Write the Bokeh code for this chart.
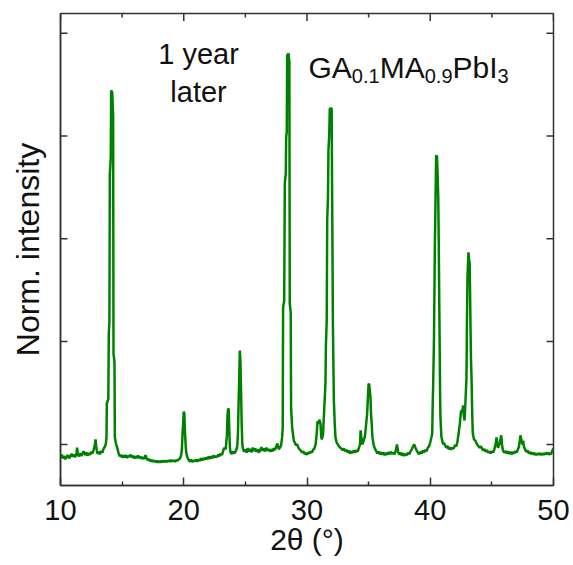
from math import pi

from bokeh.embed import file_html
from bokeh.models import FixedTicker, Label, Range1d
from bokeh.plotting import figure
from bokeh.resources import INLINE

# XRD pattern, GA0.1MA0.9PbI3 film one year after preparation
two_theta = [
    10.0, 10.1, 10.2, 10.3, 10.4, 10.5, 10.6, 10.7, 10.8, 10.9,
    11.0, 11.1, 11.2, 11.3, 11.35, 11.4, 11.5, 11.6, 11.7, 11.8,
    11.9, 12.0, 12.1, 12.2, 12.3, 12.4, 12.5, 12.6, 12.7, 12.8,
    12.84, 12.9, 12.95, 13.0, 13.1, 13.2, 13.3, 13.4, 13.5, 13.6,
    13.68, 13.73, 13.76, 13.88, 13.92, 13.97, 14.0, 14.08, 14.11, 14.2,
    14.27, 14.3, 14.38, 14.41, 14.5, 14.6, 14.7, 14.8, 14.9, 15.0,
    15.1, 15.2, 15.3, 15.4, 15.5, 15.6, 15.7, 15.8, 15.9, 16.0,
    16.1, 16.2, 16.3, 16.4, 16.5, 16.6, 16.7, 16.8, 16.9, 17.0,
    17.1, 17.2, 17.3, 17.4, 17.5, 17.6, 17.7, 17.8, 17.9, 18.0,
    18.1, 18.2, 18.3, 18.4, 18.5, 18.6, 18.7, 18.8, 18.9, 19.0,
    19.1, 19.2, 19.3, 19.4, 19.5, 19.6, 19.7, 19.8, 19.85, 19.9,
    19.95, 20.0, 20.05, 20.1, 20.15, 20.2, 20.3, 20.4, 20.5, 20.6,
    20.7, 20.8, 20.9, 21.0, 21.1, 21.2, 21.3, 21.4, 21.5, 21.6,
    21.7, 21.8, 21.9, 22.0, 22.1, 22.2, 22.3, 22.4, 22.5, 22.6,
    22.7, 22.8, 22.9, 23.0, 23.1, 23.2, 23.3, 23.4, 23.5, 23.55,
    23.6, 23.65, 23.7, 23.75, 23.8, 23.9, 24.0, 24.1, 24.2, 24.3,
    24.35, 24.4, 24.45, 24.5, 24.55, 24.6, 24.65, 24.7, 24.75, 24.8,
    24.9, 25.0, 25.1, 25.2, 25.3, 25.4, 25.5, 25.6, 25.7, 25.8,
    25.9, 26.0, 26.1, 26.2, 26.3, 26.4, 26.5, 26.6, 26.7, 26.8,
    26.9, 27.0, 27.1, 27.2, 27.3, 27.4, 27.5, 27.6, 27.7, 27.8,
    27.9, 27.98, 28.03, 28.06, 28.15, 28.2, 28.28, 28.31, 28.36, 28.39,
    28.5, 28.57, 28.6, 28.68, 28.71, 28.8, 28.93, 29.0, 29.1, 29.2,
    29.3, 29.4, 29.5, 29.6, 29.7, 29.8, 29.9, 30.0, 30.1, 30.2,
    30.3, 30.4, 30.5, 30.6, 30.7, 30.8, 30.85, 30.95, 31.0, 31.1,
    31.15, 31.2, 31.3, 31.42, 31.5, 31.53, 31.6, 31.64, 31.7, 31.74,
    31.8, 31.85, 32.0, 32.04, 32.07, 32.1, 32.13, 32.18, 32.25, 32.31,
    32.4, 32.5, 32.6, 32.7, 32.8, 32.9, 33.0, 33.1, 33.2, 33.3,
    33.4, 33.5, 33.6, 33.7, 33.8, 33.9, 34.0, 34.1, 34.2, 34.3,
    34.35, 34.4, 34.5, 34.6, 34.7, 34.8, 34.88, 34.95, 35.0, 35.05,
    35.1, 35.15, 35.2, 35.25, 35.3, 35.4, 35.5, 35.6, 35.7, 35.8,
    35.9, 36.0, 36.1, 36.2, 36.3, 36.4, 36.5, 36.6, 36.7, 36.8,
    36.9, 37.0, 37.1, 37.2, 37.3, 37.35, 37.4, 37.5, 37.6, 37.7,
    37.8, 37.9, 38.0, 38.1, 38.2, 38.3, 38.4, 38.5, 38.6, 38.7,
    38.8, 38.9, 39.0, 39.1, 39.2, 39.3, 39.4, 39.5, 39.6, 39.7,
    39.8, 39.9, 40.0, 40.1, 40.16, 40.2, 40.24, 40.3, 40.37, 40.43,
    40.48, 40.55, 40.61, 40.65, 40.69, 40.73, 40.77, 40.8, 40.83, 40.9,
    40.97, 41.05, 41.1, 41.2, 41.3, 41.4, 41.5, 41.6, 41.7, 41.8,
    41.9, 42.0, 42.1, 42.2, 42.3, 42.4, 42.5, 42.6, 42.67, 42.72,
    42.78, 42.85, 42.94, 42.98, 43.02, 43.1, 43.15, 43.2, 43.24, 43.27,
    43.31, 43.35, 43.4, 43.45, 43.55, 43.67, 43.8, 43.9, 44.0, 44.1,
    44.2, 44.3, 44.4, 44.5, 44.6, 44.7, 44.8, 44.9, 45.0, 45.1,
    45.2, 45.3, 45.38, 45.45, 45.5, 45.57, 45.65, 45.76, 45.82, 45.9,
    46.0, 46.1, 46.2, 46.3, 46.4, 46.5, 46.6, 46.7, 46.8, 46.9,
    47.0, 47.1, 47.2, 47.32, 47.4, 47.48, 47.54, 47.6, 47.7, 47.8,
    47.9, 48.0, 48.1, 48.2, 48.3, 48.4, 48.5, 48.6, 48.7, 48.8,
    48.9, 49.0, 49.1, 49.2, 49.3, 49.4, 49.5, 49.6, 49.7, 49.8,
    49.9, 50.0,
]

intensity = [
    0.068, 0.075, 0.066, 0.072, 0.064, 0.070, 0.074, 0.066, 0.071, 0.077,
    0.070, 0.075, 0.069, 0.078, 0.092, 0.076, 0.071, 0.078, 0.072, 0.079,
    0.083, 0.074, 0.080, 0.073, 0.079, 0.075, 0.082, 0.078, 0.088, 0.100,
    0.112, 0.095, 0.084, 0.077, 0.083, 0.076, 0.084, 0.080, 0.090, 0.094,
    0.102, 0.117, 0.200, 0.210, 0.370, 0.400, 0.754, 0.800, 0.961, 0.955,
    0.900, 0.321, 0.300, 0.117, 0.102, 0.092, 0.080, 0.071, 0.075, 0.068,
    0.073, 0.069, 0.074, 0.067, 0.072, 0.070, 0.075, 0.068, 0.072, 0.066,
    0.071, 0.067, 0.073, 0.066, 0.070, 0.065, 0.069, 0.064, 0.074, 0.066,
    0.061, 0.064, 0.059, 0.062, 0.058, 0.061, 0.057, 0.060, 0.056, 0.059,
    0.056, 0.060, 0.057, 0.061, 0.057, 0.060, 0.058, 0.061, 0.058, 0.062,
    0.059, 0.061, 0.058, 0.062, 0.060, 0.064, 0.066, 0.075, 0.090, 0.125,
    0.150, 0.180, 0.175, 0.130, 0.100, 0.080, 0.068, 0.062, 0.058, 0.063,
    0.057, 0.061, 0.059, 0.063, 0.058, 0.064, 0.060, 0.066, 0.061, 0.067,
    0.063, 0.068, 0.064, 0.070, 0.065, 0.071, 0.066, 0.073, 0.068, 0.072,
    0.069, 0.075, 0.071, 0.078, 0.074, 0.085, 0.092, 0.088, 0.120, 0.170,
    0.187, 0.185, 0.130, 0.090, 0.080, 0.077, 0.083, 0.078, 0.082, 0.090,
    0.098, 0.130, 0.200, 0.260, 0.328, 0.300, 0.230, 0.150, 0.102, 0.090,
    0.082, 0.088, 0.080, 0.091, 0.083, 0.089, 0.081, 0.092, 0.084, 0.090,
    0.082, 0.088, 0.080, 0.086, 0.093, 0.084, 0.090, 0.083, 0.092, 0.085,
    0.089, 0.082, 0.088, 0.083, 0.091, 0.086, 0.095, 0.102, 0.088, 0.092,
    0.098, 0.117, 0.140, 0.433, 0.450, 0.735, 0.760, 0.847, 0.860, 1.046,
    1.051, 1.030, 0.443, 0.420, 0.187, 0.140, 0.109, 0.105, 0.098, 0.100,
    0.092, 0.088, 0.085, 0.080, 0.083, 0.077, 0.079, 0.075, 0.080, 0.078,
    0.083, 0.080, 0.087, 0.090, 0.100, 0.130, 0.156, 0.150, 0.160, 0.150,
    0.120, 0.112, 0.125, 0.200, 0.250, 0.336, 0.400, 0.645, 0.700, 0.815,
    0.850, 0.917, 0.917, 0.700, 0.564, 0.400, 0.321, 0.207, 0.150, 0.117,
    0.105, 0.100, 0.095, 0.092, 0.089, 0.086, 0.090, 0.083, 0.087, 0.080,
    0.085, 0.078, 0.083, 0.079, 0.085, 0.080, 0.086, 0.082, 0.090, 0.100,
    0.134, 0.120, 0.100, 0.109, 0.120, 0.150, 0.175, 0.220, 0.248, 0.245,
    0.230, 0.214, 0.170, 0.151, 0.120, 0.100, 0.090, 0.085, 0.078, 0.083,
    0.076, 0.081, 0.075, 0.080, 0.074, 0.079, 0.075, 0.081, 0.076, 0.082,
    0.077, 0.080, 0.076, 0.085, 0.100, 0.090, 0.080, 0.075, 0.080, 0.073,
    0.078, 0.072, 0.077, 0.074, 0.080, 0.076, 0.083, 0.088, 0.095, 0.100,
    0.092, 0.085, 0.080, 0.076, 0.082, 0.078, 0.085, 0.080, 0.087, 0.083,
    0.092, 0.095, 0.105, 0.118, 0.127, 0.200, 0.248, 0.350, 0.572, 0.700,
    0.803, 0.800, 0.742, 0.700, 0.591, 0.450, 0.321, 0.220, 0.165, 0.120,
    0.109, 0.100, 0.104, 0.098, 0.092, 0.096, 0.088, 0.093, 0.087, 0.092,
    0.090, 0.098, 0.095, 0.105, 0.127, 0.150, 0.182, 0.180, 0.195, 0.170,
    0.158, 0.200, 0.263, 0.400, 0.506, 0.567, 0.550, 0.540, 0.450, 0.377,
    0.300, 0.263, 0.180, 0.127, 0.112, 0.109, 0.100, 0.096, 0.092, 0.095,
    0.090, 0.085, 0.089, 0.082, 0.086, 0.080, 0.083, 0.078, 0.084, 0.080,
    0.088, 0.100, 0.117, 0.100, 0.092, 0.097, 0.105, 0.122, 0.100, 0.085,
    0.080, 0.084, 0.078, 0.083, 0.077, 0.082, 0.076, 0.081, 0.078, 0.084,
    0.080, 0.087, 0.095, 0.122, 0.110, 0.100, 0.109, 0.095, 0.087, 0.082,
    0.085, 0.078, 0.082, 0.076, 0.080, 0.075, 0.079, 0.074, 0.078, 0.075,
    0.079, 0.074, 0.078, 0.075, 0.079, 0.076, 0.080, 0.075, 0.079, 0.076,
    0.085, 0.090,
]

assert len(two_theta) == len(intensity)

x_major_ticks = [10, 20, 30, 40, 50]
x_minor_ticks = [15, 25, 35, 45]
y_ticks = [0.1, 0.35, 0.6, 0.85, 1.1]

X_MIN, X_MAX = 10, 50
Y_MIN, Y_MAX = 0, 1.148

SANS = "Liberation Sans"
INK = "#111111"
AXIS = "#333333"

p = figure(
    width=573, height=565,
    x_range=Range1d(X_MIN, X_MAX), y_range=Range1d(Y_MIN, Y_MAX),
    output_backend="svg", toolbar_location=None,
    min_border_left=60, min_border_right=20,
    min_border_top=13, min_border_bottom=80,
    background_fill_color="white", border_fill_color="white",
)
p.xgrid.visible = False
p.ygrid.visible = False
p.outline_line_color = AXIS
p.outline_line_width = 1.5

p.line(two_theta, intensity, line_color="#008000", line_width=2.5)

# bottom axis: inward ticks and numeric labels
xa = p.xaxis[0]
xa.ticker = FixedTicker(ticks=x_major_ticks, minor_ticks=x_minor_ticks)
xa.axis_line_color = AXIS
xa.axis_line_width = 1.5
xa.major_tick_line_color = AXIS
xa.major_tick_line_width = 1.5
xa.minor_tick_line_color = AXIS
xa.minor_tick_line_width = 1.5
xa.major_tick_in = 8
xa.major_tick_out = 0
xa.minor_tick_in = 4
xa.minor_tick_out = 0
xa.major_label_text_font = SANS
xa.major_label_text_font_size = "29px"
xa.major_label_text_color = INK
xa.major_label_standoff = 14
xa.axis_label = "2θ (°)"
xa.axis_label_text_font = SANS
xa.axis_label_text_font_size = "30px"
xa.axis_label_text_font_style = "normal"
xa.axis_label_text_color = INK
xa.axis_label_standoff = 0

# left axis: title only, no numbers
ya = p.yaxis[0]
ya.ticker = FixedTicker(ticks=[], minor_ticks=[])
ya.axis_line_color = AXIS
ya.axis_line_width = 1.5
ya.major_label_standoff = 0
ya.axis_label = "Norm. intensity"
ya.axis_label_text_font = SANS
ya.axis_label_text_font_size = "32px"
ya.axis_label_text_font_style = "normal"
ya.axis_label_text_color = INK
ya.axis_label_standoff = 15

# inward tick marks on the left, right and top edges (half of each dash is clipped by the frame)
p.scatter([X_MIN] * len(y_ticks), y_ticks, marker="dash", size=14, angle=0,
          line_color=AXIS, line_width=1.5)
p.scatter([X_MAX] * len(y_ticks), y_ticks, marker="dash", size=14, angle=0,
          line_color=AXIS, line_width=1.5)
p.scatter(x_major_ticks, [Y_MAX] * len(x_major_ticks), marker="dash", size=15,
          angle=pi / 2, line_color=AXIS, line_width=1.5)
p.scatter(x_minor_ticks, [Y_MAX] * len(x_minor_ticks), marker="dash", size=8,
          angle=pi / 2, line_color=AXIS, line_width=1.5)


def add_text(x, y, text, size):
    p.add_layout(Label(
        x=x, y=y, text=text, text_font=SANS, text_font_size=size,
        text_color=INK, text_align="left", text_baseline="alphabetic",
    ))


p.add_layout(Label(x=21.2, y=1.049, text="1 year", text_font=SANS, text_font_size="29px",
                   text_color=INK, text_align="center", text_baseline="alphabetic"))
p.add_layout(Label(x=21.2, y=0.958, text="later", text_font=SANS, text_font_size="29px",
                   text_color=INK, text_align="center", text_baseline="alphabetic"))

formula = [
    (30.12, 1.017, "GA", "30px"),
    (33.64, 0.995, "0.1", "20px"),
    (35.90, 1.017, "MA", "30px"),
    (39.55, 0.995, "0.9", "20px"),
    (41.81, 1.017, "PbI", "30px"),
    (45.46, 0.995, "3", "20px"),
]
for fx, fy, ftext, fsize in formula:
    add_text(fx, fy, ftext, fsize)

open("out.html", "w").write(file_html(p, INLINE))
